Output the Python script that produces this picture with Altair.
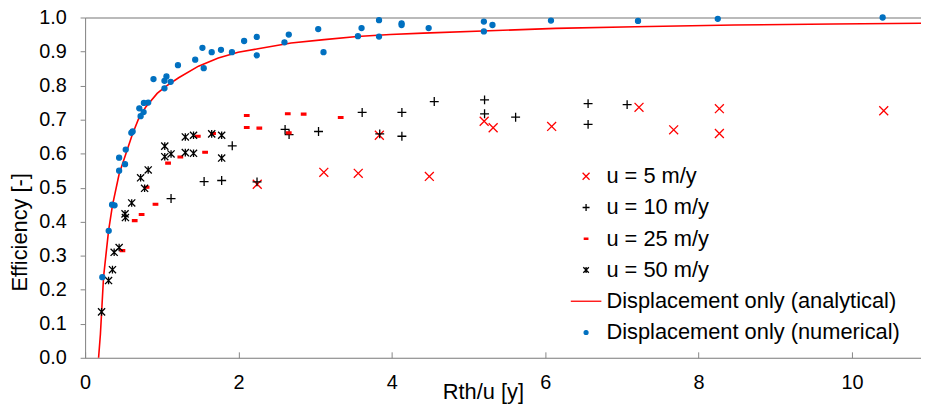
import altair as alt
import pandas as pd

FONT = "Liberation Sans"
AXIS_GRAY = "#868686"

series_names = ["u = 5 m/y", "u = 10 m/y", "u = 25 m/y", "u = 50 m/y",
                "Displacement only (analytical)", "Displacement only (numerical)"]
series_colors = ["#FF0000", "#000000", "#FF0000", "#000000", "#FF0000", "#0070C0"]
series_fills = ["transparent", "transparent", "#FF0000", "transparent", "transparent", "#0070C0"]
series_shapes = [
    "M-1,-1L1,1M-1,1L1,-1",
    "M-1,0L1,0M0,-1L0,1",
    "M-0.5,-0.2L0.5,-0.2L0.5,0.2L-0.5,0.2Z",
    "M-0.8,-0.8L0.8,0.8M-0.8,0.8L0.8,-0.8M0,-0.85L0,0.85",
    "M-4.4,0L4.4,0",
    "M-0.56,0A0.56,0.56,0,1,1,0.56,0A0.56,0.56,0,1,1,-0.56,0Z",
]

u5_x = [2.245, 3.113, 3.562, 3.837, 4.489, 5.204, 5.321, 6.084, 7.223, 7.675, 8.271, 8.271, 10.414]
u5_y = [0.510, 0.545, 0.542, 0.654, 0.533, 0.695, 0.676, 0.680, 0.736, 0.670, 0.732, 0.659, 0.726]

u10_x = [1.121, 1.552, 1.781, 1.919, 2.242, 2.608, 2.660, 3.044, 3.613, 3.842, 4.131, 4.131,
         4.553, 5.209, 5.209, 5.614, 6.559, 6.559, 7.068]
u10_y = [0.468, 0.518, 0.521, 0.623, 0.517, 0.671, 0.656, 0.665, 0.721, 0.658, 0.721, 0.651,
         0.753, 0.758, 0.717, 0.707, 0.747, 0.686, 0.744]

u25_x = [0.487, 0.647, 0.737, 0.802, 0.918, 1.082, 1.242, 1.470, 1.565, 1.669, 2.108, 2.108,
         2.272, 2.643, 2.656, 2.850, 3.333]
u25_y = [0.315, 0.403, 0.421, 0.501, 0.451, 0.572, 0.590, 0.651, 0.604, 0.659, 0.712, 0.677,
         0.675, 0.717, 0.661, 0.716, 0.706]

u50_x = [0.215, 0.306, 0.357, 0.379, 0.444, 0.521, 0.526, 0.608, 0.724, 0.776, 0.823, 1.039,
         1.039, 1.121, 1.307, 1.307, 1.414, 1.414, 1.651, 1.781, 1.781]
u50_y = [0.135, 0.227, 0.259, 0.310, 0.324, 0.423, 0.412, 0.455, 0.529, 0.498, 0.552, 0.622,
         0.591, 0.599, 0.649, 0.603, 0.654, 0.601, 0.658, 0.654, 0.587]

num_x = [0.225, 0.308, 0.352, 0.384, 0.444, 0.444, 0.521, 0.530, 0.603, 0.620, 0.707, 0.724,
         0.763, 0.767, 0.823, 0.892, 1.035, 1.035, 1.061, 1.116, 1.211, 1.436, 1.530, 1.547,
         1.651, 1.772, 1.915, 2.074, 2.238, 2.238, 2.600, 2.656, 3.040, 3.109, 3.558, 3.605,
         3.833, 3.833, 4.127, 4.127, 4.480, 5.200, 5.200, 5.312, 6.075, 7.210, 8.250, 10.400]
num_y = [0.237, 0.373, 0.450, 0.448, 0.588, 0.550, 0.569, 0.612, 0.661, 0.665, 0.733, 0.710,
         0.722, 0.749, 0.750, 0.819, 0.792, 0.814, 0.827, 0.811, 0.860, 0.876, 0.911, 0.851,
         0.898, 0.905, 0.898, 0.931, 0.943, 0.889, 0.927, 0.950, 0.966, 0.898, 0.945, 0.969,
         0.992, 0.944, 0.983, 0.978, 0.969, 0.988, 0.959, 0.978, 0.991, 0.990, 0.996, 1.000]

ana_x = [0.176, 0.200, 0.241, 0.306, 0.357, 0.444, 0.530, 0.616, 0.702, 0.789, 0.940, 1.048,
         1.220, 1.479, 1.737, 1.996, 2.255, 2.686, 3.118, 3.549, 3.979, 4.410, 5.273, 6.136,
         7.170, 8.465, 9.758, 10.900]
ana_y = [0.000, 0.070, 0.238, 0.373, 0.448, 0.540, 0.598, 0.656, 0.705, 0.736, 0.777, 0.797,
         0.823, 0.857, 0.881, 0.898, 0.908, 0.925, 0.935, 0.944, 0.950, 0.954, 0.961, 0.968,
         0.973, 0.978, 0.981, 0.983]

x_ticks = [0, 2, 4, 6, 8, 10]
y_ticks = [0.0, 0.1, 0.2, 0.3, 0.4, 0.5, 0.6, 0.7, 0.8, 0.9, 1.0]

rows = []
for name, xs, ys in [(series_names[0], u5_x, u5_y), (series_names[1], u10_x, u10_y),
                     (series_names[2], u25_x, u25_y), (series_names[3], u50_x, u50_y),
                     (series_names[5], num_x, num_y)]:
    for a, b in zip(xs, ys):
        rows.append({"x": a, "y": b, "series": name})
df_pts = pd.DataFrame(rows)
df_line = pd.DataFrame({"x": ana_x, "y": ana_y})

W = 842.6
H = 343

x_scale = alt.Scale(domain=[0, 10.9], nice=False, zero=False)
y_scale = alt.Scale(domain=[0, 1], nice=False)

y_axis = alt.Axis(orient="left", values=y_ticks, format=".1f", title="Efficiency [-]",
                  titleX=-66, titleY=216, titleAngle=270, titleBaseline="middle",
                  titleAlign="center",
                  titleFont=FONT, titleFontSize=22, titleFontWeight="normal",
                  titleColor="black", labelFont=FONT, labelFontSize=20,
                  labelColor="black", labelPadding=14, ticks=True, tickSize=5,
                  tickColor=AXIS_GRAY, domainColor=AXIS_GRAY, domainWidth=1,
                  grid=False, labelFlush=False)

leg = alt.Legend(title=None, orient="none", legendX=494, legendY=149,
                 labelFont=FONT, labelFontSize=22, labelColor="black", labelLimit=500,
                 symbolSize=49, symbolStrokeWidth=1.3, rowPadding=9.5,
                 labelOffset=9.5, padding=0, symbolOpacity=1)

line = alt.Chart(df_line).mark_line(strokeWidth=1.6, color="#FF0000").encode(
    x=alt.X("x:Q", scale=x_scale,
            axis=alt.Axis(orient="top", labels=False, ticks=False, grid=False, title=None,
                          domainColor=AXIS_GRAY, domainWidth=1)),
    y=alt.Y("y:Q", scale=y_scale, axis=y_axis),
)

points = alt.Chart(df_pts).mark_point(filled=False, size=81, strokeWidth=1.3, opacity=1).encode(
    x=alt.X("x:Q", scale=x_scale,
            axis=alt.Axis(orient="bottom", values=x_ticks, format="d", title="Rth/u [y]",
                          titleX=401, titleY=41, titleBaseline="alphabetic",
                          titleFont=FONT, titleFontSize=22, titleFontWeight="normal",
                          titleColor="black", labelFont=FONT, labelFontSize=20,
                          labelColor="black", labelPadding=15, ticks=False, tickSize=0,
                          domainColor=AXIS_GRAY, domainWidth=1, grid=True,
                          gridColor=AXIS_GRAY, gridWidth=1, gridDash=[0, H - 6, 6, 2000],
                          labelFlush=False)),
    y=alt.Y("y:Q", scale=y_scale, axis=y_axis),
    color=alt.Color("series:N", scale=alt.Scale(domain=series_names, range=series_colors), legend=leg),
    fill=alt.Fill("series:N", scale=alt.Scale(domain=series_names, range=series_fills), legend=leg),
    shape=alt.Shape("series:N", scale=alt.Scale(domain=series_names, range=series_shapes), legend=leg),
)

chart = alt.layer(line, points).resolve_axis(x="independent").properties(
    width=W, height=H,
    autosize=alt.AutoSizeParams(type="none"),
    padding={"left": 77.7, "top": 8, "right": 0, "bottom": 45},
).configure_view(stroke=None).configure(font=FONT)

chart.save("out.html", embed_options={"renderer": "svg", "actions": False})
